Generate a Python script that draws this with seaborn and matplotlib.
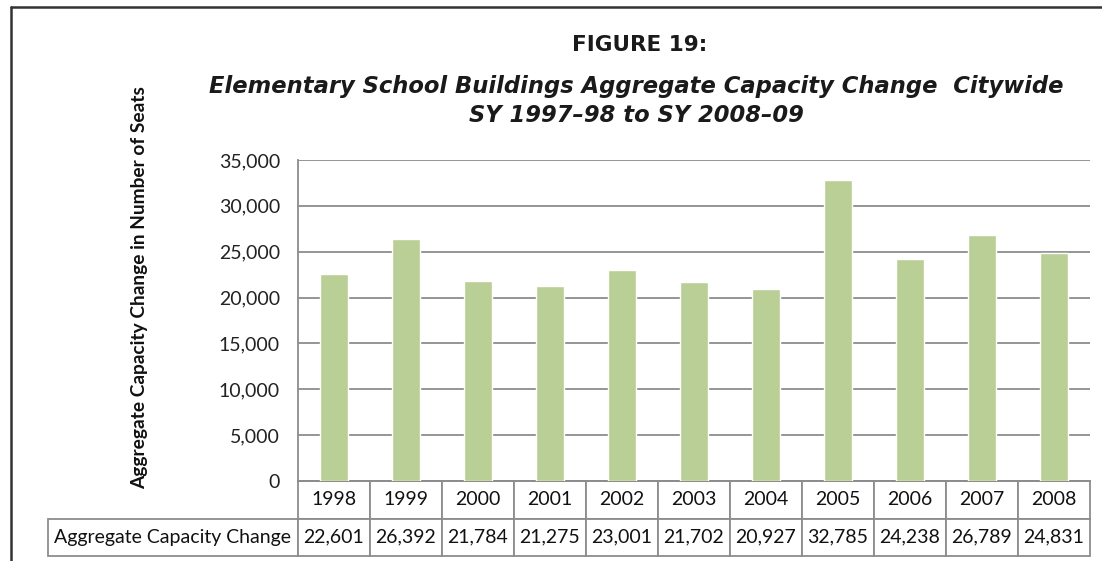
import matplotlib
matplotlib.use("Agg")
import matplotlib.pyplot as plt
from matplotlib.lines import Line2D
import seaborn as sns
import pandas as pd

# Data
years = ["1998", "1999", "2000", "2001", "2002", "2003", "2004", "2005", "2006", "2007", "2008"]
capacity = [22601, 26392, 21784, 21275, 23001, 21702, 20927, 32785, 24238, 26789, 24831]
row_label = "Aggregate Capacity Change"
y_ticks = [0, 5000, 10000, 15000, 20000, 25000, 30000, 35000]

title_main = "FIGURE 19:"
title_sub = "Elementary School Buildings Aggregate Capacity Change  Citywide\nSY 1997\u201398 to SY 2008\u201309"
y_label = "Aggregate Capacity Change in Number of Seats"

sns.set_style("white")
plt.rcParams["font.family"] = ["Lato", "DejaVu Sans"]

df = pd.DataFrame({"year": years, "capacity": capacity})

W, H = 1102, 561
fig = plt.figure(figsize=(W / 100, H / 100), dpi=100)
ax = fig.add_axes([298 / W, 1 - 481 / H, (1090 - 298) / W, (481 - 160) / H])

bar_color = "#B9CF96"
grid_color = "#8C8C8C"

sns.barplot(data=df, x="year", y="capacity", color=bar_color, saturation=1,
            width=0.4, ax=ax, zorder=3)

ax.set_ylim(0, 35000)
ax.set_xlim(-0.5, len(years) - 0.5)
ax.set_yticks(y_ticks)
ax.set_yticklabels([f"{v:,}" for v in y_ticks], fontsize=14, color="#222222")
ax.yaxis.grid(True, color=grid_color, linewidth=1.3, zorder=0)
ax.set_axisbelow(True)
ax.tick_params(axis="y", direction="out", length=7, width=1.3, color=grid_color, pad=6)
ax.set_xticks([])
ax.set_xlabel("")
ax.set_ylabel("")
for side in ["top", "right"]:
    ax.spines[side].set_visible(False)
for side in ["left", "bottom"]:
    ax.spines[side].set_color(grid_color)
    ax.spines[side].set_linewidth(1.3)

# Data table beneath the bars
label_w = (298 - 48) / (1090 - 298)
col_w = 1 / len(years)
cell_text = [[row_label] + [f"{v:,}" for v in capacity]]
col_labels = [""] + years
table_h = (556 - 481) / (481 - 160)
tbl = ax.table(cellText=cell_text, colLabels=col_labels,
               colWidths=[label_w] + [col_w] * len(years),
               bbox=[-label_w, -table_h, 1 + label_w, table_h],
               cellLoc="center", loc="bottom")
tbl.auto_set_font_size(False)
for (r, c), cell in tbl.get_celld().items():
    cell.set_edgecolor(grid_color)
    cell.set_linewidth(1.3)
    cell.get_text().set_fontsize(14)
    cell.get_text().set_color("#111111")
    cell.get_text().set_fontfamily(["Lato", "DejaVu Sans"])
    if r == 0 and c == 0:
        cell.visible_edges = ""

# Titles
fig.text(640 / W, 1 - 45 / H, title_main, ha="center", va="center",
         fontsize=15.5, fontweight="bold", family="DejaVu Sans", color="#1a1a1a")
fig.text(636 / W, 1 - 101 / H, title_sub, ha="center", va="center",
         fontsize=16.3, fontweight="bold", fontstyle="italic", family="DejaVu Sans",
         color="#1a1a1a", linespacing=1.38)

fig.text(140 / W, 1 - 288 / H, y_label, ha="center", va="center", rotation=90,
         fontsize=13.8, fontweight="bold", color="#111111")

# Page frame
fig.add_artist(Line2D([11 / W, 1.0], [1 - 7 / H, 1 - 7 / H], color="#333333", linewidth=1.8))
fig.add_artist(Line2D([11 / W, 11 / W], [1 - 7 / H, 0], color="#333333", linewidth=1.8))

fig.savefig("out.png", dpi=100)
